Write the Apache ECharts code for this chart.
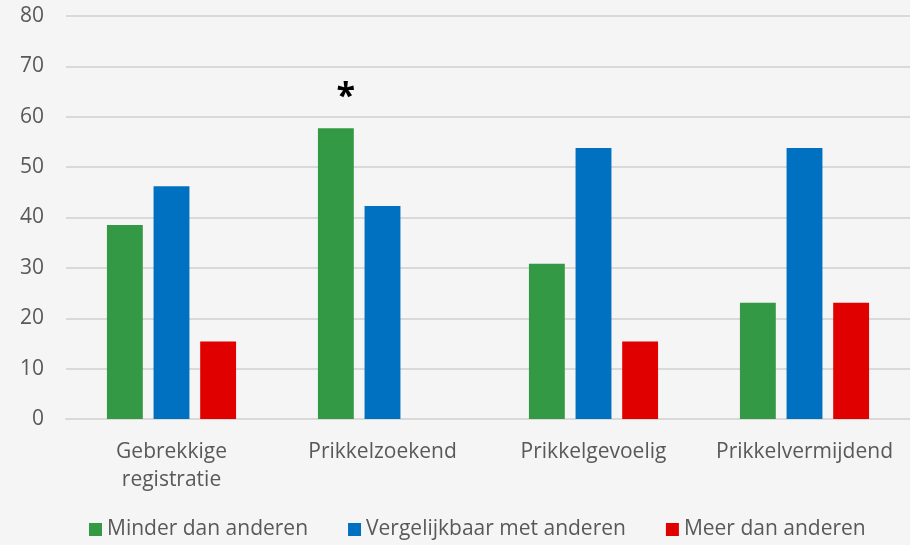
<!DOCTYPE html>
<html>
<head>
<meta charset="utf-8">
<script src="https://cdn.jsdelivr.net/npm/echarts@6/dist/echarts.min.js"></script>
<style>
  html, body { margin: 0; padding: 0; background: #f5f5f5; }
  #chart { width: 910px; height: 545px; }
</style>
</head>
<body>
<div id="chart"></div>
<script>
// categories and values
const categories = ['Gebrekkige\nregistratie', 'Prikkelzoekend', 'Prikkelgevoelig', 'Prikkelvermijdend'];
const seriesNames = ['Minder dan anderen', 'Vergelijkbaar met anderen', 'Meer dan anderen'];
const minder = [38.5, 57.7, 30.8, 23.1];
const vergelijkbaar = [46.2, 42.3, 53.8, 53.8];
const meer = [15.4, 0, 15.4, 23.1];
// which category of "Minder" gets the asterisk
const starIndex = 1;

const colors = ['#339944', '#0070c0', '#e00000'];
const font = 'Open Sans, Calibri, sans-serif';

const chart = echarts.init(document.getElementById('chart'));

const minderData = minder.map((v, i) => {
  if (i !== starIndex) return v;
  return {
    value: v,
    label: {
      show: true,
      position: 'top',
      distance: 14,
      offset: [10, 0],
      formatter: '*',
      fontSize: 34,
      fontWeight: 'bold',
      color: '#000',
      fontFamily: font
    }
  };
});

const option = {
  backgroundColor: '#f5f5f5',
  color: colors,
  animation: false,
  grid: { left: 66, right: 0, top: 16, bottom: 126 },
  legend: {
    bottom: 0,
    left: 84,
    itemWidth: 13,
    itemHeight: 13,
    itemGap: 40,
    icon: 'rect',
    textStyle: { fontSize: 21, color: '#595959', fontFamily: font }
  },
  xAxis: {
    type: 'category',
    data: categories,
    axisLine: { lineStyle: { color: '#d9d9d9', width: 2 } },
    axisTick: { show: false },
    axisLabel: {
      interval: 0,
      color: '#595959',
      fontSize: 21,
      fontFamily: font,
      margin: 19,
      lineHeight: 28
    }
  },
  yAxis: {
    type: 'value',
    min: 0,
    max: 80,
    interval: 10,
    axisLine: { show: false },
    axisTick: { show: false },
    splitLine: { lineStyle: { color: '#d9d9d9', width: 2 } },
    axisLabel: { color: '#595959', fontSize: 21, fontFamily: font, margin: 22 }
  },
  series: [
    { name: seriesNames[0], type: 'bar', data: minderData, barWidth: '17%', barGap: '30%' },
    { name: seriesNames[1], type: 'bar', data: vergelijkbaar, barWidth: '17%', barGap: '30%' },
    { name: seriesNames[2], type: 'bar', data: meer, barWidth: '17%', barGap: '30%' }
  ]
};

chart.setOption(option);
</script>
</body>
</html>
